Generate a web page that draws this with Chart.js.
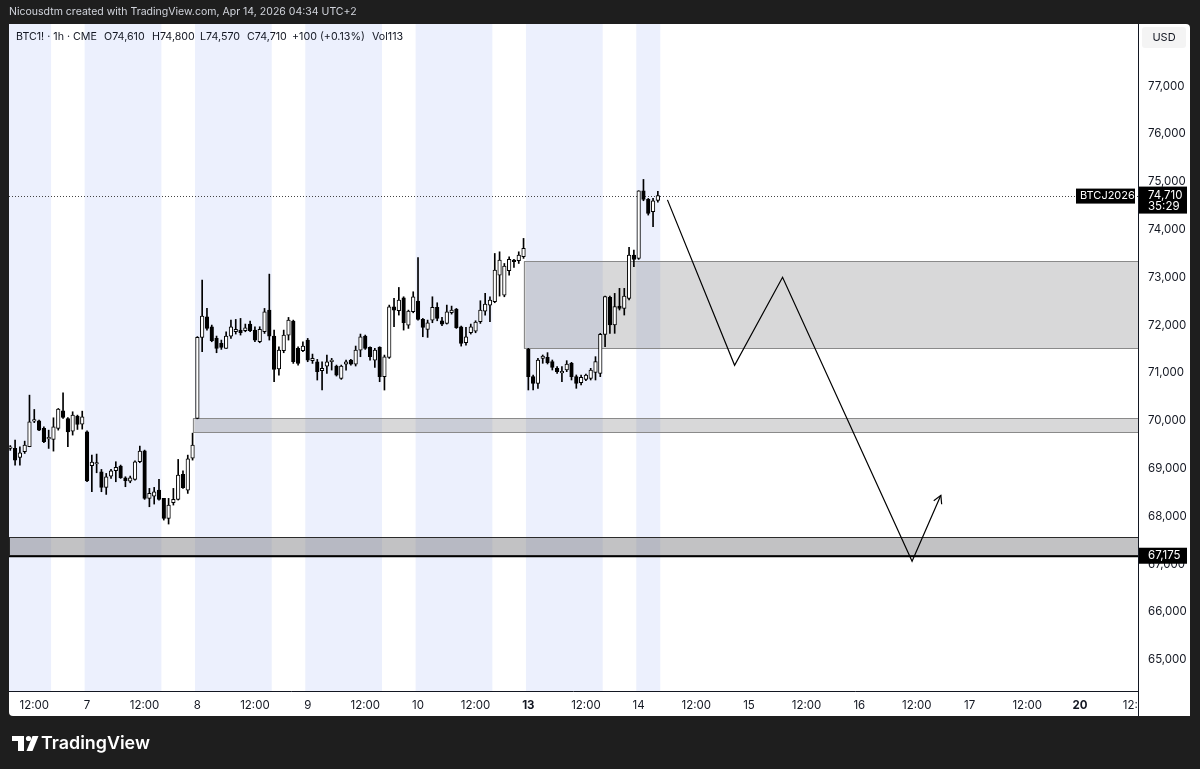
<!DOCTYPE html>
<html>
<head>
<meta charset="utf-8">
<title>BTC1! 1h</title>
<script src="https://cdn.jsdelivr.net/npm/chart.js@4.4.1/dist/chart.umd.min.js"></script>
<style>
  html, body { margin: 0; padding: 0; background: #1e1e1e; }
  #wrap { width: 1200px; height: 769px; }
</style>
</head>
<body>
<div id="wrap"><canvas id="chart" width="1200" height="769"></canvas></div>
<script>
// BTC1! 1h CME - hourly candles, bar index = trading day * 23 + hour (Apr 6 = day 0)

const firstBar = 7;

const opens = [
  69420, 69420, 69232, 69350, 69455, 69990, 69998, 69838, 69620, 69608, 69838, 70207, 70047, 69782, 70096, 69929,
  69768, 69058, 69095, 68932, 68605, 68842, 68953, 69051, 68807, 68737, 68772, 69142, 69371, 68375, 68423, 68549,
  68375, 67956, 68284, 68354, 68877, 68549, 69218,
  70050, 71743, 72175, 71966, 71722, 71618, 71513, 71771, 71861, 71896, 71882, 72022, 71896, 71652, 71861, 72315,
  71771, 71081, 71464, 71792, 72085, 71513, 71464,
  71687, 71255, 71234, 71046, 71143, 71234, 71143, 70886, 71185, 71269, 71185, 71478, 71771, 71534, 71269, 71534,
  70920, 71325, 72384, 72300, 72572, 72001, 72279,
  72502, 72119, 71910, 72105, 72370, 72091, 72036, 72258, 72335, 71966, 71631, 71840, 71875, 72070, 72293, 72419,
  72488, 73046, 72628, 73137, 73360, 73346, 73431,
  71493, 70922, 70782, 71305, 71326, 71235, 71096, 71000, 71061, 71201, 70922, 70797, 70866, 70887, 71012, 70991,
  71807, 72581, 72002, 72400, 72351, 72560, 73466,
  73396, 74811, 74630, 74372, 74610
];
const highs = [
  69480, 69594, 69455, 69573, 70535, 70235, 70012, 69873, 69803, 70061, 70256, 70584, 70068, 70187, 70117, 70200,
  69789, 69281, 69302, 68981, 68897, 68981, 69142, 69072, 68828, 68842, 69163, 69469, 69385, 68584, 68605, 68772,
  68375, 68375, 68584, 69190, 68953, 69280, 69740,
  71760, 72942, 72349, 72001, 71771, 71687, 71861, 72105, 72119, 72140, 72022, 72085, 71966, 71966, 72349, 73067,
  71896, 71548, 71896, 72161, 72105, 71548, 71652,
  71722, 71394, 71283, 71234, 71373, 71304, 71164, 71164, 71269, 71283, 71562, 71813, 71792, 71548, 71513, 71548,
  71373, 72419, 72558, 72788, 72593, 72314, 72698,
  73415, 72140, 72105, 72593, 72468, 72161, 72419, 72398, 72349, 71980, 71952, 72022, 72091, 72510, 72663, 72593,
  73499, 73534, 73290, 73429, 73374, 73534, 73814,
  71514, 70957, 71305, 71375, 71424, 71270, 71131, 71131, 71256, 71222, 70957, 70957, 70978, 71096, 71340, 71828,
  72609, 72609, 72664, 72769, 72769, 73626, 73570,
  74811, 75048, 74651, 74651, 74800
];
const lows = [
  69380, 69072, 69072, 69315, 69455, 69960, 69790, 69538, 69420, 69364, 69803, 70047, 69455, 69699, 69817, 69824,
  68723, 68514, 68911, 68514, 68458, 68793, 68723, 68793, 68619, 68702, 68758, 69121, 68354, 68200, 68256, 68340,
  67921, 67838, 68235, 68340, 68584, 68479, 69176,
  70040, 71443, 71896, 71652, 71422, 71492, 71513, 71722, 71813, 71792, 71861, 71861, 71652, 71631, 71826, 71687,
  70816, 70955, 71422, 71687, 71199, 71164, 71443,
  71234, 71199, 70851, 70642, 70990, 71060, 70934, 70865, 71060, 71164, 71144, 71339, 71492, 71269, 71116, 70816,
  70642, 71304, 71966, 72210, 71896, 71931, 72258,
  72105, 71757, 71743, 72050, 72091, 71987, 72022, 72230, 71931, 71561, 71582, 71813, 71840, 72036, 72210, 72070,
  72468, 72607, 72593, 73046, 73206, 73290, 73396,
  70643, 70643, 70678, 71201, 71187, 71061, 70991, 70817, 71026, 70852, 70678, 70747, 70838, 70852, 70852, 70922,
  71549, 71828, 71828, 72316, 72211, 72525, 73222,
  73375, 74602, 74302, 74058, 74570
];
const closes = [
  69430, 69176, 69330, 69490, 69978, 69998, 69803, 69560, 69640, 69873, 70242, 70068, 69768, 70117, 69922, 70082,
  68740, 69135, 69105, 68605, 68828, 68953, 69023, 68807, 68744, 68807, 69142, 69364, 68375, 68479, 68514, 68354,
  67956, 68235, 68354, 68863, 68598, 69200, 69490,
  71743, 72189, 71931, 71673, 71513, 71534, 71771, 71966, 71910, 71840, 71945, 71882, 71687, 71910, 72280, 71771,
  71074, 71478, 71792, 72105, 71234, 71199, 71562,
  71269, 71304, 71025, 71095, 71234, 71269, 70955, 71143, 71234, 71185, 71478, 71757, 71513, 71339, 71478, 70920,
  71339, 72384, 72314, 72524, 72050, 72293, 72593,
  72119, 71952, 72050, 72370, 72140, 72022, 72280, 72314, 71945, 71617, 71757, 71966, 72064, 72314, 72440, 72524,
  73151, 73360, 73234, 73374, 73325, 73464, 73605,
  70922, 70782, 71270, 71354, 71214, 71117, 71026, 71030, 71187, 70922, 70782, 70908, 70957, 71061, 71235, 71807,
  72595, 72002, 72386, 72351, 72609, 73466, 73375,
  74811, 74630, 74337, 74602, 74710
];

// time axis
const timeTickBars = [12, 23, 35, 46, 58, 69, 81, 92, 104, 115, 127, 138, 150, 161, 173, 184, 196, 207, 219, 230, 242];
const timeTickLabels = ["12:00", "7", "12:00", "8", "12:00", "9", "12:00", "10", "12:00", "13", "12:00", "14",
  "12:00", "15", "12:00", "16", "12:00", "17", "12:00", "20", "12:00"];
const boldTickLabels = ["13", "20"];
const priceTicks = [65000, 66000, 67000, 68000, 69000, 70000, 71000, 72000, 73000, 74000, 75000, 76000, 77000];

// session shading (bar index ranges)
const shadeFrom = [-0.5, 22.5, 45.5, 68.5, 91.5, 114.5, 137.5];
const shadeTo = [15.5, 38.5, 61.5, 84.5, 107.5, 130.5, 142.5];

// drawings
const zoneFrom = [45, 114, 0];
const zoneTop = [70054, 73340, 67565];
const zoneBottom = [69762, 71515, 67188];
const zoneAlpha = [0.27, 0.27, 0.42];
const keyLevel = 67175;
const lastPrice = 74710;
const pathBars = [144, 158, 168, 195, 201];
const pathPrices = [74620, 71160, 73000, 67060, 68440];

// legend
const legendText = ["BTC1! · 1h · CME", "O74,610", "H74,800", "L74,570", "C74,710", "+100 (+0.13%)", "Vol113"];
const legendX = [16, 104, 152, 200, 247, 292, 372];

const FONT = "Inter, Roboto, 'Noto Sans', sans-serif";

const bodies = closes.map((c, k) => ({ x: firstBar + k, y: [opens[k], c] }));
const wicks = highs.map((h, k) => ({ x: firstBar + k, y: [lows[k], h] }));
const bodyColors = closes.map((c, k) => (c >= opens[k] ? "#ffffff" : "#000000"));
const pathPoints = pathBars.map((b, k) => ({ x: b, y: pathPrices[k] }));

function fmt(v) {
  return Math.round(v).toLocaleString("en-US");
}

// font sized so that text spans the given width
function fitFont(ctx, text, width, weight) {
  ctx.font = weight + " 20px " + FONT;
  const size = (20 * width) / ctx.measureText(text).width;
  return weight + " " + size.toFixed(2) + "px " + FONT;
}

const tvDecor = {
  id: "tvDecor",
  beforeDraw(chart) {
    const ctx = chart.ctx;
    const area = chart.chartArea;
    const xs = chart.scales.x;
    ctx.save();
    ctx.fillStyle = "#1e1e1e";
    ctx.fillRect(0, 0, chart.width, chart.height);
    ctx.fillStyle = "#ffffff";
    ctx.beginPath();
    ctx.roundRect(9, 24, 1181, 692, 4);
    ctx.fill();

    // sessions
    ctx.beginPath();
    ctx.rect(area.left, area.top, area.right - area.left, area.bottom - area.top);
    ctx.clip();
    ctx.fillStyle = "#ecf0fd";
    shadeFrom.forEach((f, k) => {
      const x0 = xs.getPixelForValue(f);
      const x1 = xs.getPixelForValue(shadeTo[k]);
      ctx.fillRect(x0, area.top, x1 - x0, area.bottom - area.top);
    });
    ctx.restore();
  },
  beforeDatasetsDraw(chart) {
    const ctx = chart.ctx;
    const area = chart.chartArea;
    const xs = chart.scales.x;
    const ys = chart.scales.y;
    ctx.save();
    ctx.beginPath();
    ctx.rect(area.left, area.top, area.right - area.left, area.bottom - area.top);
    ctx.clip();

    // zones
    zoneFrom.forEach((f, k) => {
      const x0 = Math.max(area.left, xs.getPixelForValue(f));
      const yt = Math.round(ys.getPixelForValue(zoneTop[k])) + 0.5;
      const yb = Math.round(ys.getPixelForValue(zoneBottom[k])) + 0.5;
      ctx.fillStyle = "rgba(110,110,115," + zoneAlpha[k] + ")";
      ctx.fillRect(x0, yt, area.right - x0, yb - yt);
      ctx.strokeStyle = k === 2 ? "#2a2a2a" : "#8a8a8a";
      ctx.lineWidth = 1;
      ctx.strokeRect(Math.round(x0) + 0.5, yt, area.right - x0 + 2, yb - yt);
    });

    // key level
    const yk = Math.round(ys.getPixelForValue(keyLevel)) + 0.5;
    ctx.strokeStyle = "#000000";
    ctx.lineWidth = 1.5;
    ctx.beginPath();
    ctx.moveTo(area.left, yk);
    ctx.lineTo(area.right, yk);
    ctx.stroke();

    // last price dotted line
    const yl = Math.round(ys.getPixelForValue(lastPrice)) + 0.5;
    ctx.strokeStyle = "#444444";
    ctx.lineWidth = 1;
    ctx.setLineDash([1, 2]);
    ctx.beginPath();
    ctx.moveTo(area.left, yl);
    ctx.lineTo(area.right, yl);
    ctx.stroke();
    ctx.restore();
  },
  afterDraw(chart) {
    const ctx = chart.ctx;
    const area = chart.chartArea;
    const xs = chart.scales.x;
    const ys = chart.scales.y;
    ctx.save();

    // clip time label under price axis corner
    ctx.fillStyle = "#ffffff";
    ctx.fillRect(area.right + 1, area.bottom + 1, 51, 24);

    // axis lines
    ctx.strokeStyle = "#131722";
    ctx.lineWidth = 1;
    ctx.beginPath();
    ctx.moveTo(area.right + 0.5, 24);
    ctx.lineTo(area.right + 0.5, 716);
    ctx.moveTo(9, area.bottom + 0.5);
    ctx.lineTo(area.right, area.bottom + 0.5);
    ctx.stroke();

    // arrowhead at end of projection
    const n = pathBars.length;
    const ax = xs.getPixelForValue(pathBars[n - 1]);
    const ay = ys.getPixelForValue(pathPrices[n - 1]);
    const bx = xs.getPixelForValue(pathBars[n - 2]);
    const by = ys.getPixelForValue(pathPrices[n - 2]);
    const ang = Math.atan2(ay - by, ax - bx);
    ctx.strokeStyle = "#000000";
    ctx.lineWidth = 1.2;
    ctx.beginPath();
    ctx.moveTo(ax - 9 * Math.cos(ang - 0.5), ay - 9 * Math.sin(ang - 0.5));
    ctx.lineTo(ax, ay);
    ctx.lineTo(ax - 9 * Math.cos(ang + 0.5), ay - 9 * Math.sin(ang + 0.5));
    ctx.stroke();

    // header
    ctx.textBaseline = "middle";
    ctx.textAlign = "left";
    ctx.fillStyle = "#d1d4dc";
    const header = "Nicousdtm created with TradingView.com, Apr 14, 2026 04:34 UTC+2";
    ctx.font = fitFont(ctx, header, 348, "normal");
    ctx.fillText(header, 9, 12);

    // legend
    ctx.fillStyle = "#131722";
    ctx.font = fitFont(ctx, legendText[0], 81, "normal");
    legendText.forEach((t, k) => ctx.fillText(t, legendX[k], 37));

    // USD box
    ctx.fillStyle = "#f4f4f4";
    ctx.beginPath();
    ctx.roundRect(1142, 27, 44, 21, 3);
    ctx.fill();
    ctx.fillStyle = "#131722";
    ctx.font = "11px " + FONT;
    ctx.textAlign = "center";
    ctx.fillText("USD", 1164, 38);

    // last price label
    const yl = ys.getPixelForValue(lastPrice);
    ctx.fillStyle = "#000000";
    ctx.fillRect(area.right + 1, yl - 9, 48, 27);
    ctx.fillRect(1076, yl - 7, 59, 15);
    ctx.fillStyle = "#ffffff";
    ctx.textAlign = "left";
    ctx.font = "11.5px " + FONT;
    ctx.fillText(fmt(lastPrice), 1148, yl);
    ctx.fillText("35:29", 1148, yl + 11);
    ctx.font = "11px " + FONT;
    ctx.fillText("BTCJ2026", 1080, yl + 0.5);

    // key level label
    const yk = ys.getPixelForValue(keyLevel);
    ctx.fillStyle = "#000000";
    ctx.fillRect(area.right + 1, yk - 8, 48, 16);
    ctx.fillStyle = "#ffffff";
    ctx.font = "11.5px " + FONT;
    ctx.fillText(fmt(keyLevel), 1148, yk);

    // footer logo
    ctx.fillStyle = "#ffffff";
    ctx.fillRect(12, 736, 12, 5);
    ctx.fillRect(18, 736, 6, 15);
    ctx.beginPath();
    ctx.arc(28.5, 738.5, 2.6, 0, Math.PI * 2);
    ctx.fill();
    ctx.beginPath();
    ctx.moveTo(32.5, 736);
    ctx.lineTo(38.5, 736);
    ctx.lineTo(32.5, 751);
    ctx.lineTo(26.5, 751);
    ctx.closePath();
    ctx.fill();
    ctx.font = fitFont(ctx, "TradingView", 109, "600");
    ctx.fillText("TradingView", 41, 744);
    ctx.restore();
  }
};

new Chart(document.getElementById("chart"), {
  type: "bar",
  data: {
    datasets: [
      {
        type: "line",
        data: pathPoints,
        borderColor: "#000000",
        borderWidth: 1.2,
        pointRadius: 0,
        tension: 0,
        order: 0
      },
      {
        data: bodies,
        backgroundColor: bodyColors,
        borderColor: "#000000",
        borderWidth: 1,
        borderSkipped: false,
        barThickness: 3.6,
        minBarLength: 1.5,
        grouped: false,
        order: 1
      },
      {
        data: wicks,
        backgroundColor: "#000000",
        borderWidth: 0,
        barThickness: 1,
        grouped: false,
        order: 2
      }
    ]
  },
  options: {
    responsive: false,
    animation: false,
    events: [],
    layout: { autoPadding: false, padding: { left: 9, top: 24, right: 10, bottom: 53 } },
    plugins: { legend: { display: false }, tooltip: { enabled: false } },
    scales: {
      x: {
        type: "linear",
        min: 6.73,
        max: 242.1,
        offset: false,
        grid: { display: false, drawTicks: false },
        border: { display: false },
        afterFit: (s) => { s.height = 25; },
        afterBuildTicks: (s) => { s.ticks = timeTickBars.map((v) => ({ value: v })); },
        ticks: {
          autoSkip: false,
          maxRotation: 0,
          padding: 8,
          color: "#131722",
          font: (c) => ({
            family: FONT,
            size: 11.5,
            weight: c.tick && boldTickLabels.includes(timeTickLabels[timeTickBars.indexOf(c.tick.value)]) ? "bold" : "normal"
          }),
          callback: (v) => {
            const k = timeTickBars.indexOf(v);
            return k >= 0 ? timeTickLabels[k] : "";
          }
        }
      },
      y: {
        type: "linear",
        position: "right",
        min: 64345,
        max: 78300,
        grid: { display: false, drawTicks: false },
        border: { display: false },
        afterFit: (s) => { s.width = 52; },
        afterBuildTicks: (s) => { s.ticks = priceTicks.map((v) => ({ value: v })); },
        ticks: {
          padding: 10,
          color: "#131722",
          font: { family: FONT, size: 11.5 },
          callback: (v) => fmt(v)
        }
      }
    }
  },
  plugins: [tvDecor]
});
</script>
</body>
</html>
